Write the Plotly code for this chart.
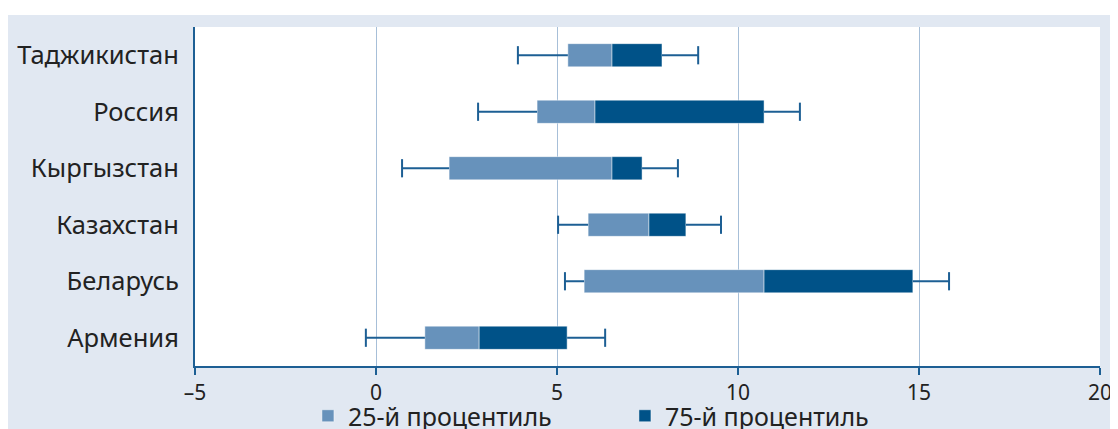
import plotly.graph_objects as go

countries = ["Таджикистан", "Россия", "Кыргызстан", "Казахстан", "Беларусь", "Армения"]
minimum = [3.92, 2.82, 0.72, 5.03, 5.22, -0.28]
q1 = [5.30, 4.45, 2.02, 5.86, 5.75, 1.35]
median = [6.52, 6.05, 6.52, 7.54, 10.72, 2.85]
q3 = [7.90, 10.72, 7.35, 8.56, 14.83, 5.28]
maximum = [8.90, 11.71, 8.34, 9.53, 15.83, 6.33]
tick_vals = [-5, 0, 5, 10, 15, 20]
tick_text = ["–5", "0", "5", "10", "15", "20"]
legend_names = ["25-й процентиль", "75-й процентиль"]

LIGHT = "#6792bb"
DARK = "#005288"
AXIS = "#1d5f94"
BG = "#e1e8f2"
FONT = "Noto Sans"
EDGE = "rgba(255,255,255,0.45)"

fig = go.Figure()
fig.add_trace(go.Bar(
    y=countries, x=[m - a for m, a in zip(median, q1)], base=q1,
    orientation="h", marker=dict(color=LIGHT, line=dict(width=1, color=EDGE)),
    name=legend_names[0], width=0.41,
))
fig.add_trace(go.Bar(
    y=countries, x=[b - m for m, b in zip(median, q3)], base=median,
    orientation="h", marker=dict(color=DARK, line=dict(width=1, color=EDGE)),
    name=legend_names[1], width=0.41,
))

wx, wy = [], []
for c, lo, a, b, hi in zip(countries, minimum, q1, q3, maximum):
    wx += [lo, a, None, b, hi, None]
    wy += [c, c, None, c, c, None]
fig.add_trace(go.Scatter(x=wx, y=wy, mode="lines", line=dict(color=AXIS, width=2),
                         showlegend=False, hoverinfo="skip"))
fig.add_trace(go.Scatter(x=minimum + maximum, y=countries + countries, mode="markers",
                         marker=dict(symbol="line-ns-open", size=13, color=AXIS,
                                     line=dict(color=AXIS, width=2)),
                         showlegend=False, hoverinfo="skip"))

# the page adds an 8px body margin, so the figure is 8px smaller than the window
fig.update_layout(
    width=1110, height=421,
    margin=dict(l=187, r=18, t=19, b=63),
    paper_bgcolor=BG, plot_bgcolor="white",
    barmode="overlay",
    font=dict(family=FONT, size=25.5, color="#222222"),
    showlegend=True,
    legend=dict(orientation="h", xref="paper", x=0.1248, xanchor="left",
                yref="container", y=1 - 408 / 421, yanchor="middle",
                entrywidth=272, entrywidthmode="pixels", bgcolor="rgba(0,0,0,0)",
                font=dict(size=25), traceorder="normal"),
    xaxis=dict(range=[-5, 20], tickvals=tick_vals, ticktext=tick_text,
               tickfont=dict(size=21),
               showgrid=True, gridcolor="#a7bfd8", gridwidth=1,
               showline=True, linecolor=AXIS, linewidth=2,
               ticks="outside", ticklen=7, tickcolor=AXIS, tickwidth=2,
               zeroline=False, fixedrange=True, automargin=False),
    yaxis=dict(categoryorder="array", categoryarray=countries[::-1],
               range=[-0.5, 5.5], showgrid=False, zeroline=False,
               showline=True, linecolor=AXIS, linewidth=2,
               ticks="", ticklabelstandoff=9, automargin=False),
    shapes=[
        dict(type="rect", xref="paper", yref="paper", x0=-0.3, x1=1.1,
             y0=1.0354, y1=1.2, fillcolor="white", line=dict(width=0), layer="below"),
    ],
)

fig.write_html("out.html")
